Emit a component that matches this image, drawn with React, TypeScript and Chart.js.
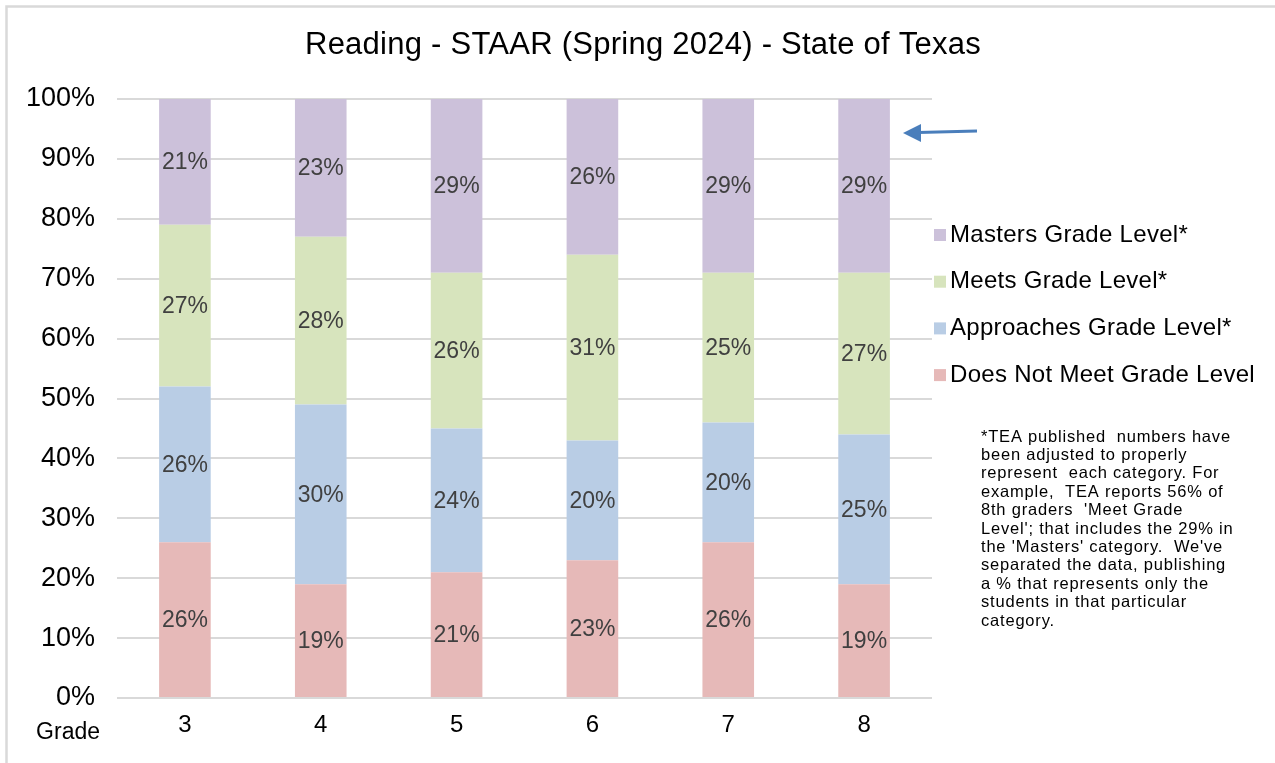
import React, { useEffect, useRef } from "react";
import { Chart, registerables } from "chart.js";

Chart.register(...registerables);

const grades = ["3", "4", "5", "6", "7", "8"];
const doesNotMeet = [26, 19, 21, 23, 26, 19];
const approaches = [26, 30, 24, 20, 20, 25];
const meets = [27, 28, 26, 31, 25, 27];
const masters = [21, 23, 29, 26, 29, 29];

const seriesNames = [
  "Does Not Meet Grade Level",
  "Approaches Grade Level*",
  "Meets Grade Level*",
  "Masters Grade Level*",
];
const seriesColors = ["#E6B9B8", "#B9CDE5", "#D7E4BD", "#CCC1DA"];

const titleText = "Reading - STAAR (Spring 2024) - State of Texas";
const xAxisLabel = "Grade";
const noteLines = [
  "*TEA published  numbers have",
  "been adjusted to properly",
  "represent  each category. For",
  "example,  TEA reports 56% of",
  "8th graders  'Meet Grade",
  "Level'; that includes the 29% in",
  "the 'Masters' category.  We've",
  "separated the data, publishing",
  "a % that represents only the",
  "students in that particular",
  "category.",
];

const FONT = "'Liberation Sans', Arial, Helvetica, sans-serif";

const extrasPlugin = {
  id: "extras",
  beforeDraw(chart: any) {
    const ctx = chart.ctx;
    ctx.save();
    ctx.fillStyle = "#ffffff";
    ctx.fillRect(0, 0, chart.width, chart.height);
    ctx.strokeStyle = "#D9D9D9";
    ctx.lineWidth = 2.5;
    ctx.strokeRect(6.5, 6.5, chart.width + 20, chart.height + 20);
    ctx.restore();
  },
  afterDatasetsDraw(chart: any) {
    const ctx = chart.ctx;
    ctx.save();
    ctx.font = `23px ${FONT}`;
    ctx.fillStyle = "#404040";
    ctx.textAlign = "center";
    ctx.textBaseline = "middle";
    chart.data.datasets.forEach((ds: any, di: number) => {
      const meta = chart.getDatasetMeta(di);
      meta.data.forEach((el: any, i: number) => {
        const p = el.getProps(["x", "y", "base"], true);
        ctx.fillText(ds.data[i] + "%", p.x, (p.y + p.base) / 2 + 1);
      });
    });
    ctx.restore();
  },
  afterDraw(chart: any) {
    const ctx = chart.ctx;
    const area = chart.chartArea;
    ctx.save();
    // title
    ctx.fillStyle = "#000000";
    ctx.font = `31px ${FONT}`;
    (ctx as any).letterSpacing = "0.25px";
    ctx.textAlign = "center";
    ctx.textBaseline = "middle";
    ctx.fillText(titleText, 643, 45);
    (ctx as any).letterSpacing = "0px";

    // Grade label
    ctx.font = `23px ${FONT}`;
    ctx.textAlign = "right";
    ctx.fillText(xAxisLabel, 100, 733);

    // legend (reversed order)
    ctx.font = `24px ${FONT}`;
    ctx.textAlign = "left";
    (ctx as any).letterSpacing = "0.3px";
    const ds = chart.data.datasets;
    for (let k = 0; k < ds.length; k++) {
      const d = ds[ds.length - 1 - k];
      const cy = 235 + k * 46.7;
      ctx.fillStyle = d.backgroundColor;
      ctx.fillRect(area.right + 2, cy - 6, 12, 12);
      ctx.fillStyle = "#000000";
      ctx.fillText(d.label, area.right + 18, cy);
    }

    // note
    ctx.font = `16.5px ${FONT}`;
    (ctx as any).letterSpacing = "0.8px";
    noteLines.forEach((line, i) => {
      ctx.fillText(line, 981, 437 + i * 18.4);
    });
    (ctx as any).letterSpacing = "0px";

    // arrow
    ctx.strokeStyle = "#4A7EBB";
    ctx.fillStyle = "#4A7EBB";
    ctx.lineWidth = 3;
    ctx.beginPath();
    ctx.moveTo(977, 131);
    ctx.lineTo(918, 132.5);
    ctx.stroke();
    ctx.beginPath();
    ctx.moveTo(903, 133);
    ctx.lineTo(921, 124);
    ctx.lineTo(921, 142);
    ctx.closePath();
    ctx.fill();
    ctx.restore();
  },
};

export default function App() {
  const ref = useRef<HTMLCanvasElement | null>(null);
  useEffect(() => {
    const values = [doesNotMeet, approaches, meets, masters];
    const chart = new Chart(ref.current as HTMLCanvasElement, {
      type: "bar",
      data: {
        labels: grades,
        datasets: values.map((v, i) => ({
          label: seriesNames[i],
          data: v,
          backgroundColor: seriesColors[i],
          borderWidth: 0,
          categoryPercentage: 1,
          barPercentage: 0.38,
        })),
      },
      options: {
        animation: false,
        responsive: false,
        devicePixelRatio: 1,
        layout: { padding: { left: 0, right: 343, top: 99, bottom: 25 } },
        plugins: {
          legend: { display: false },
          title: { display: false },
          tooltip: { enabled: false },
        },
        scales: {
          x: {
            stacked: true,
            grid: { display: false, drawTicks: false },
            border: { display: false },
            ticks: {
              color: "#000000",
              font: { size: 24, family: FONT },
              padding: 13,
            },
            afterFit(scale: any) {
              scale.height = 40;
            },
          },
          y: {
            stacked: true,
            min: 0,
            max: 100,
            grid: { color: "#D9D9D9", lineWidth: 2, drawTicks: false },
            border: { display: false },
            ticks: {
              stepSize: 10,
              color: "#000000",
              font: { size: 27, family: FONT },
              padding: 22,
              callback: (v: any) => v + "%",
            },
            afterFit(scale: any) {
              scale.width = 117;
            },
          },
        },
      },
      plugins: [extrasPlugin],
    });
    return () => chart.destroy();
  }, []);
  return (
    <div style={{ position: "absolute", left: 0, top: 0, width: 1275, height: 763, background: "#fff" }}>
      <canvas ref={ref} width={1275} height={763} style={{ width: 1275, height: 763, display: "block" }} />
    </div>
  );
}
